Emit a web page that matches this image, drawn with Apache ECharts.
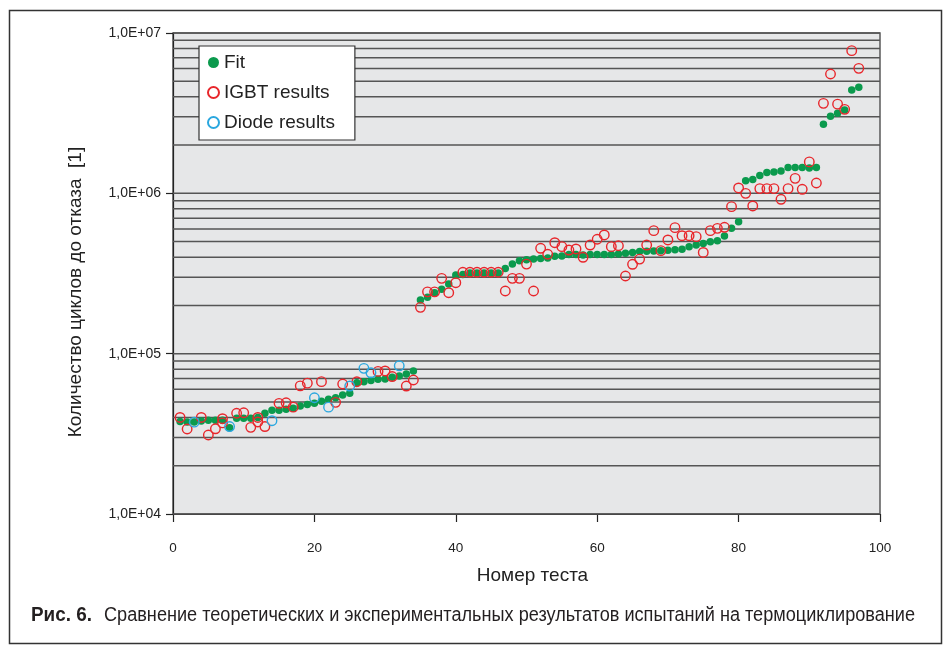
<!DOCTYPE html>
<html><head><meta charset="utf-8">
<script src="https://cdn.jsdelivr.net/npm/echarts@6/dist/echarts.min.js"></script>
<style>html,body{margin:0;padding:0;background:#fff}#c{width:947px;height:649px}</style>
</head><body><div id="c"></div><script>
// ---- data ----
const fitTests = [1,2,3,4,5,6,7,8,9,10,11,12,13,14,15,16,17,18,19,20,21,22,23,24,25,26,27,28,29,30,31,32,33,34,35,36,37,38,39,40,41,42,43,44,45,46,47,48,49,50,51,52,53,54,55,56,57,58,59,60,61,62,63,64,65,66,67,68,69,70,71,72,73,74,75,76,77,78,79,80,81,82,83,84,85,86,87,88,89,90,91,92,93,94,95,96,97];
const fitCycles = [37700,37500,37500,38000,38500,38500,38500,34500,39500,39500,
 39500,40000,42500,44400,44400,45000,45600,47200,48200,49100,
 50500,52000,53000,55200,56600,65900,66900,67900,69200,69500,
 71200,72500,74800,78000,216000,225000,240000,252000,272000,310000,
 312000,318000,318000,318000,318000,318000,340000,362000,380000,385000,
 390000,392000,395000,405000,406000,415000,415000,413000,415000,415000,
 415000,415000,418000,423000,428000,433000,436000,437000,438000,441000,
 444000,448000,465000,476000,487000,499000,506000,542000,605000,665000,
 1200000,1220000,1290000,1350000,1360000,1380000,1450000,1450000,1450000,1440000,
 1450000,2700000,3030000,3160000,3310000,4410000,4580000];
const igbtTests = [1,2,4,5,6,7,7,9,10,11,12,12,13,15,16,17,18,19,21,23,24,26,29,30,31,33,34,
 35,36,37,38,39,40,41,42,43,44,45,46,47,48,49,50,51,52,53,54,55,56,57,58,59,60,61,62,63,64,65,66,67,68,69,70,
 71,72,73,74,75,76,77,78,79,80,81,82,83,84,85,86,87,88,89,90,91,92,93,94,95,96,97];
const igbtCycles = [40000,33900,40000,31100,34000,37000,39300,42500,42800,34700,40000,37500,35100,49000,49400,46400,63000,65500,66900,49700,64700,66800,77500,78000,72000,62800,68500,
 194500,243000,243000,295000,240000,277000,322000,322000,322000,322000,322000,322000,246000,295000,295000,362000,246000,454000,417000,492000,465000,443000,450000,399000,476000,517000,550000,465000,471000,305000,361000,389000,476000,585000,439000,512000,
 611000,544000,544000,537000,428000,585000,605000,614000,826000,1080000,1000000,834000,1070000,1070000,1070000,918000,1070000,1240000,1060000,1570000,1160000,3640000,5550000,3600000,3340000,7760000,6020000];
const diodeTests = [3,8,14,20,22,25,27,28,32];
const diodeCycles = [37400,35100,38200,53100,46400,62800,81000,76000,84000];
const seriesNames = ['Fit','IGBT results','Diode results'];
const xTicks = [0,20,40,60,80,100];
const decades = [1e4,1e5,1e6];
const gridMultipliers = [1,2,3,4,5,6,7,8,9];
const xTitle = 'Номер теста';
const yTitle = 'Количество циклов до отказа  [1]';
const captionBold = 'Рис. 6.';
const captionText = 'Сравнение теоретических и экспериментальных результатов испытаний на термоциклирование';

// ---- build ----
const gridValues = [];
decades.forEach(d => gridMultipliers.forEach(m => gridValues.push(m * d)));
gridValues.push(1e7);

const zip = (xs, ys) => xs.map((x, i) => [x, ys[i]]);
const FONT = '"Liberation Sans", Arial, sans-serif';
const NARROW = '"Liberation Sans Narrow", "Liberation Sans", Arial, sans-serif';

function measure(text, font) {
  const c = document.createElement('canvas').getContext('2d');
  c.font = font; return c.measureText(text).width;
}
const capBoldFont = 'bold 20px ' + NARROW;
const capFont = '20px ' + NARROW;
const boldScale = 61 / measure(captionBold, capBoldFont);
const capScale = 811 / measure(captionText, capFont);

const chart = echarts.init(document.getElementById('c'), null, {renderer: 'canvas'});
chart.setOption({
  animation: false,
  backgroundColor: '#ffffff',
  grid: {left: 173, right: 67, top: 33, bottom: 135, show: true,
         backgroundColor: '#e6e7e8', borderColor: '#5a5a5a', borderWidth: 1.5},
  xAxis: {
    type: 'value', min: 0, max: 100, interval: 20,
    axisLine: {show: true, onZero: false, lineStyle: {color: '#222', width: 1.2}},
    axisTick: {show: true, length: 8, lineStyle: {color: '#222', width: 1.2}},
    axisLabel: {fontSize: 13.5, color: '#222', margin: 27, fontFamily: FONT},
    splitLine: {show: false},
    name: xTitle, nameLocation: 'middle', nameGap: 52,
    nameTextStyle: {fontSize: 19, color: '#222', fontFamily: FONT, padding: [0,0,0,12]}
  },
  yAxis: {
    type: 'log', logBase: 10, min: 1e4, max: 1e7,
    axisLine: {show: true, lineStyle: {color: '#222', width: 1.2}},
    axisTick: {show: true, length: 7, lineStyle: {color: '#222', width: 1.2}},
    axisLabel: {fontSize: 14, color: '#222', margin: 12, fontFamily: NARROW,
      formatter: v => '1,0E+' + ('0' + Math.round(Math.log10(v))).slice(-2)},
    splitLine: {show: false}
  },
  legend: {
    orient: 'vertical', left: 199, top: 46,
    data: seriesNames,
    backgroundColor: '#ffffff', borderColor: '#333', borderWidth: 1.2,
    padding: [7, 20, 8, 8], itemGap: 11, itemWidth: 11, itemHeight: 11,
    textStyle: {fontSize: 19, color: '#222', fontFamily: FONT, lineHeight: 19}
  },
  graphic: [
    {type: 'rect', left: 7, top: 8, shape: {width: 932, height: 633},
     style: {fill: 'none', stroke: '#333', lineWidth: 1.5}, silent: true, z: -1},
    {type: 'text', x: 76, y: 292, rotation: Math.PI / 2,
     style: {text: yTitle, font: '19px ' + FONT, fill: '#222', align: 'center', verticalAlign: 'middle'}},
    {type: 'text', x: 31, y: 615, scaleX: boldScale,
     style: {text: captionBold, font: capBoldFont, fill: '#231f20', align: 'left', verticalAlign: 'middle'}},
    {type: 'text', x: 104, y: 615, scaleX: capScale,
     style: {text: captionText, font: capFont, fill: '#231f20', align: 'left', verticalAlign: 'middle'}}
  ],
  series: [
    {
      type: 'custom', name: 'grid', silent: true, z: 1,
      data: gridValues.map(v => [0, v]), encode: {x: 0, y: 1},
      renderItem: (params, api) => {
        const y = api.coord([0, api.value(1)])[1];
        const cs = params.coordSys;
        return {type: 'line', shape: {x1: cs.x, y1: y, x2: cs.x + cs.width, y2: y},
                style: {stroke: '#555', lineWidth: 1.5}};
      }
    },
    {name: 'Fit', type: 'scatter', z: 3, data: zip(fitTests, fitCycles),
     symbol: 'circle', symbolSize: 7.5, itemStyle: {color: '#0b9a4d', opacity: 1}},
    {name: 'IGBT results', type: 'scatter', z: 4, data: zip(igbtTests, igbtCycles),
     symbol: 'circle', symbolSize: 9.5,
     itemStyle: {color: 'rgba(0,0,0,0)', borderColor: '#e8262b', borderWidth: 1.4, opacity: 1}},
    {name: 'Diode results', type: 'scatter', z: 5, data: zip(diodeTests, diodeCycles),
     symbol: 'circle', symbolSize: 9.5,
     itemStyle: {color: 'rgba(0,0,0,0)', borderColor: '#2aa7df', borderWidth: 1.4, opacity: 1}}
  ]
});
</script></body></html>
